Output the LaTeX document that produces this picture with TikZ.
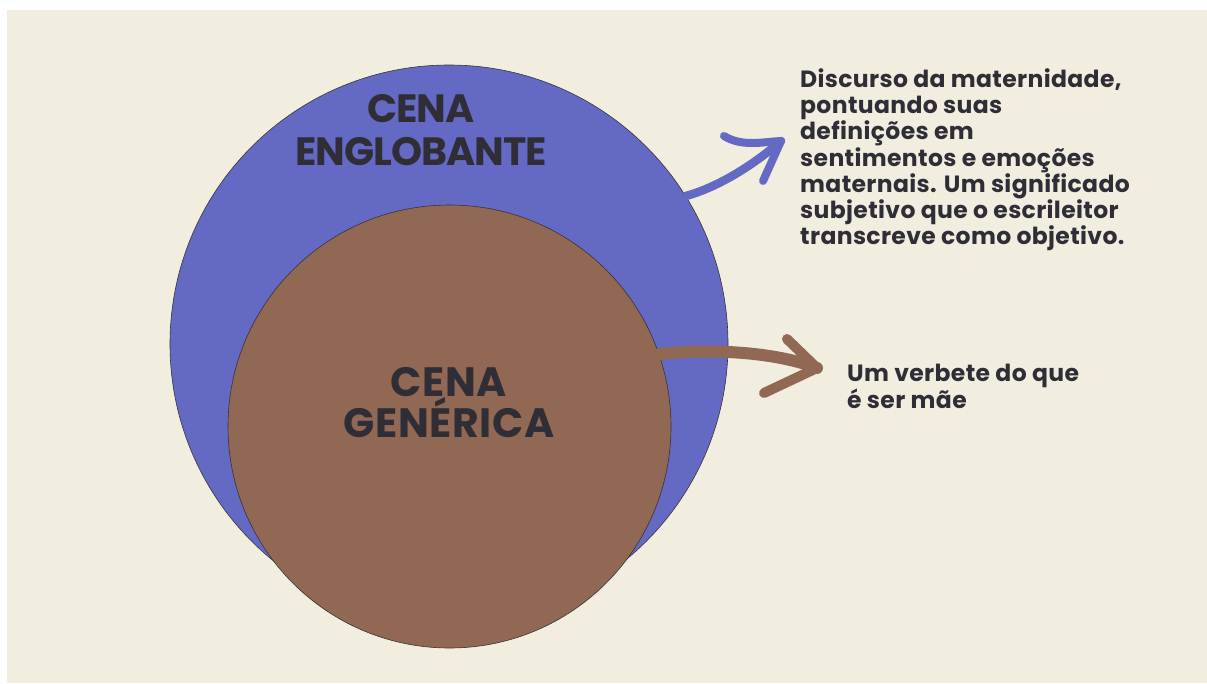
\documentclass[tikz,border=0pt]{standalone}
\usepackage{fontspec}
\setmainfont{Poppins}[LetterSpace=1.5]
\newfontfamily\engfont{Poppins}[LetterSpace=-2.5]
\definecolor{bgC}{HTML}{F2EEDF}
\definecolor{blueC}{HTML}{6469C3}
\definecolor{brownC}{HTML}{916853}
\definecolor{txtC}{HTML}{2F2E36}
\definecolor{edgeC}{HTML}{3A3236}
\begin{document}
\begin{tikzpicture}[x=1pt,y=-1pt,
  circ/.style={circle, draw=edgeC, line width=0.6pt, inner sep=0pt},
  title/.style={text=txtC, align=center, inner sep=0pt, anchor=north},
  body/.style={text=txtC, font=\bfseries\fontsize{23.5}{26.2}\selectfont, align=left, inner sep=0pt, anchor=north west},
  brushB/.style={blueC, line cap=round, line join=round},
  brushR/.style={brownC, line cap=round, line join=round}]
\useasboundingbox (0,0) rectangle (1207,683);
\fill[white] (0,0) rectangle (1207,683);
\fill[bgC] (7,10) rectangle (1207,683);
% circles
\node[circ, fill=blueC, minimum size=558pt] (outer) at (449,344) {};
\node[circ, fill=brownC, minimum size=443pt] (inner) at (449.5,426.5) {};
% titles
\node[title, font=\engfont\bfseries\fontsize{39.5}{43}\selectfont] (tEng) at (421,94.5) {CENA\\ENGLOBANTE};
\node[title, font=\bfseries\fontsize{41}{40}\selectfont] (tGen) at (449,367) {CENA\\GENÉRICA};
% texts
\node[body] (dTxt) at (800,68.5) {Discurso da maternidade,\\pontuando suas\\definições em\\sentimentos e emoções\\maternais. Um significado\\subjetivo que o escrileitor\\transcreve como objetivo.};
\node[body, font=\bfseries\fontsize{23.5}{22.8}\selectfont] (vTxt) at (847,364) {Um verbete do que\\é ser mãe};
% blue arrow
\coordinate (btip) at (781,141);
\coordinate (bup) at (724,136);
\coordinate (blow) at (763,181);
\draw[brushB, line width=8.5pt] (outer.32) .. controls (715,188) and (750,168) .. (btip);
\draw[brushB, line width=8pt] (bup) .. controls (742,147) and (762,142) .. (btip) -- (blow);
% brown arrow
\coordinate (rtip) at (817,368);
\coordinate (rup) at (787,339);
\coordinate (rlow) at (764,393);
\draw[brushR, line width=12pt] (inner.19) .. controls (700,349) and (770,350) .. (rtip);
\draw[brushR, line width=10pt] (rup) -- (rtip) -- (rlow);
\end{tikzpicture}
\end{document}
